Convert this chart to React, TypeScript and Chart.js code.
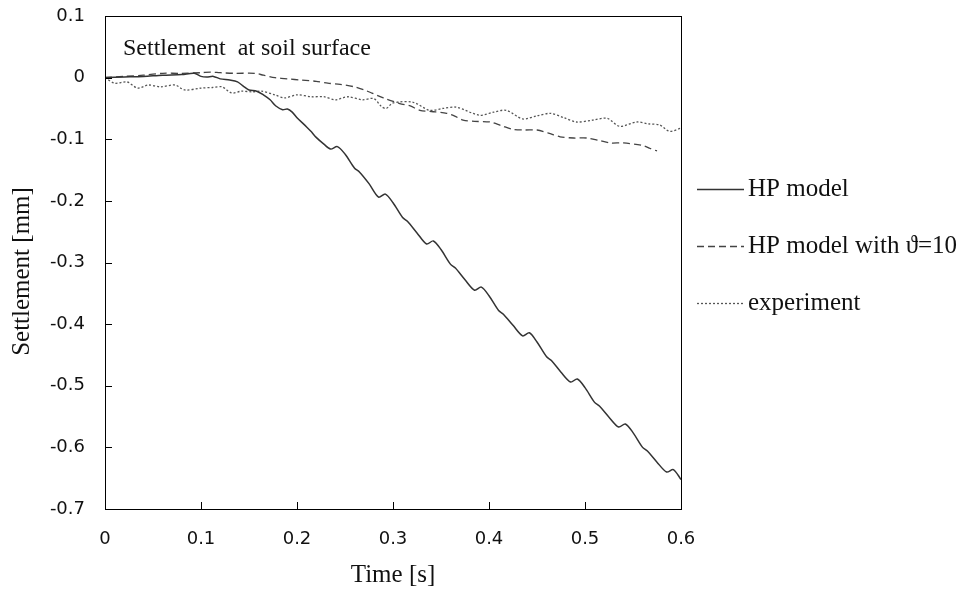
import React, { useEffect, useRef } from "react";
import { Chart, registerables } from "chart.js";

Chart.register(...registerables);

const hpTime = [0, 0.02, 0.04, 0.06, 0.08, 0.093, 0.1, 0.106, 0.113, 0.12, 0.13, 0.138, 0.145, 0.15, 0.158, 0.165, 0.172, 0.178, 0.185, 0.19, 0.195, 0.2, 0.21, 0.215, 0.22, 0.228, 0.235, 0.242, 0.25, 0.26, 0.265, 0.275, 0.285, 0.292, 0.3, 0.31, 0.315, 0.325, 0.335, 0.342, 0.35, 0.36, 0.365, 0.375, 0.385, 0.392, 0.4, 0.41, 0.415, 0.425, 0.435, 0.442, 0.45, 0.46, 0.465, 0.475, 0.485, 0.492, 0.5, 0.51, 0.515, 0.525, 0.535, 0.542, 0.55, 0.56, 0.565, 0.575, 0.585, 0.592, 0.6];
const hpSettlement = [0, 0.001, 0.002, 0.004, 0.005, 0.007, 0.002, 0.001, 0.002, -0.002, -0.004, -0.007, -0.015, -0.02, -0.022, -0.028, -0.036, -0.046, -0.052, -0.051, -0.056, -0.065, -0.08, -0.088, -0.097, -0.108, -0.116, -0.112, -0.124, -0.147, -0.153, -0.172, -0.194, -0.189, -0.203, -0.227, -0.233, -0.252, -0.27, -0.265, -0.279, -0.303, -0.309, -0.328, -0.345, -0.34, -0.354, -0.378, -0.384, -0.402, -0.419, -0.414, -0.429, -0.453, -0.459, -0.478, -0.494, -0.489, -0.503, -0.527, -0.533, -0.551, -0.567, -0.562, -0.576, -0.6, -0.606, -0.624, -0.64, -0.636, -0.652];

const thetaTime = [0, 0.02, 0.04, 0.06, 0.08, 0.1, 0.11, 0.12, 0.135, 0.156, 0.165, 0.177, 0.19, 0.205, 0.22, 0.232, 0.245, 0.26, 0.27, 0.278, 0.29, 0.307, 0.318, 0.328, 0.34, 0.356, 0.365, 0.373, 0.385, 0.401, 0.413, 0.425, 0.437, 0.45, 0.462, 0.474, 0.488, 0.502, 0.515, 0.526, 0.54, 0.56, 0.568, 0.575];
const thetaSettlement = [0, 0.002, 0.004, 0.007, 0.007, 0.008, 0.009, 0.008, 0.007, 0.007, 0.004, 0, -0.002, -0.004, -0.006, -0.009, -0.011, -0.015, -0.02, -0.025, -0.033, -0.042, -0.046, -0.053, -0.055, -0.058, -0.063, -0.069, -0.071, -0.072, -0.078, -0.084, -0.085, -0.085, -0.09, -0.096, -0.098, -0.098, -0.102, -0.106, -0.106, -0.11, -0.115, -0.119];

const expTime = [0, 0.01, 0.023, 0.034, 0.045, 0.058, 0.073, 0.083, 0.1, 0.112, 0.122, 0.132, 0.142, 0.153, 0.163, 0.177, 0.187, 0.2, 0.215, 0.228, 0.24, 0.253, 0.268, 0.28, 0.288, 0.293, 0.3, 0.321, 0.338, 0.352, 0.366, 0.39, 0.405, 0.418, 0.435, 0.45, 0.464, 0.478, 0.491, 0.508, 0.523, 0.536, 0.554, 0.566, 0.578, 0.588, 0.6];
const expSettlement = [0, -0.009, -0.007, -0.017, -0.012, -0.015, -0.012, -0.02, -0.017, -0.016, -0.015, -0.025, -0.022, -0.023, -0.022, -0.028, -0.033, -0.028, -0.031, -0.031, -0.036, -0.031, -0.036, -0.034, -0.047, -0.05, -0.041, -0.04, -0.053, -0.05, -0.048, -0.061, -0.056, -0.053, -0.067, -0.062, -0.058, -0.065, -0.072, -0.069, -0.066, -0.079, -0.072, -0.075, -0.077, -0.087, -0.082];

const seriesLabels = ["HP model", "HP model with \u03d1=10", "experiment"];
const xTickValues = [0, 0.1, 0.2, 0.3, 0.4, 0.5, 0.6];
const yTickValues = [0.1, 0, -0.1, -0.2, -0.3, -0.4, -0.5, -0.6, -0.7];
const chartTitle = "Settlement  at soil surface";
const xTitle = "Time [s]";
const yTitle = "Settlement [mm]";

const SERIF = "'Liberation Serif', 'Times New Roman', serif";
const SANS = "'DejaVu Sans', Verdana, sans-serif";

const zip = (xs: number[], ys: number[]) => xs.map((x, i) => ({ x, y: ys[i] }));

const framePlugin = {
  id: "frame",
  afterDraw(chart: any) {
    const { ctx, chartArea } = chart;
    const { left, right, top, bottom } = chartArea;
    const xs = chart.scales.x;
    const ys = chart.scales.y;
    ctx.save();
    ctx.strokeStyle = "#000";
    ctx.lineWidth = 1;
    ctx.strokeRect(Math.round(left) + 0.5, Math.round(top) + 0.5, Math.round(right - left), Math.round(bottom - top));
    ctx.beginPath();
    yTickValues.forEach((v) => {
      const py = Math.round(ys.getPixelForValue(v)) + 0.5;
      ctx.moveTo(left, py);
      ctx.lineTo(left + 7, py);
    });
    xTickValues.forEach((v) => {
      const px = Math.round(xs.getPixelForValue(v)) + 0.5;
      ctx.moveTo(px, bottom);
      ctx.lineTo(px, bottom - 7);
    });
    ctx.stroke();

    // title inside plot
    ctx.fillStyle = "#111";
    ctx.font = "24px " + SERIF;
    ctx.textBaseline = "alphabetic";
    ctx.textAlign = "left";
    ctx.fillText(chartTitle, left + 18, top + 39);

    // y-axis title
    ctx.save();
    ctx.translate(22, (top + bottom) / 2 + 9);
    ctx.rotate(-Math.PI / 2);
    ctx.font = "25px " + SERIF;
    ctx.textAlign = "center";
    ctx.textBaseline = "middle";
    ctx.fillText(yTitle, 0, 0);
    ctx.restore();

    // legend
    const rows = [189, 246, 303];
    chart.data.datasets.forEach((ds: any, i: number) => {
      const y = rows[i] + 0.5;
      ctx.beginPath();
      ctx.strokeStyle = ds.borderColor;
      ctx.lineWidth = ds.borderWidth;
      ctx.setLineDash(ds.borderDash || []);
      ctx.moveTo(right + 16, y);
      ctx.lineTo(right + 63, y);
      ctx.stroke();
      ctx.setLineDash([]);
      ctx.fillStyle = "#111";
      ctx.font = "25px " + SERIF;
      ctx.textAlign = "left";
      ctx.textBaseline = "middle";
      ctx.fillText(ds.label, right + 67, rows[i]);
    });
    ctx.restore();
  },
};

export default function App() {
  const canvasRef = useRef<HTMLCanvasElement | null>(null);

  useEffect(() => {
    document.body.style.margin = "0";
    const canvas = canvasRef.current;
    if (!canvas) return;
    const chart = new Chart(canvas, {
      type: "line",
      data: {
        datasets: [
          {
            label: seriesLabels[0],
            data: zip(hpTime, hpSettlement),
            borderColor: "#333",
            borderWidth: 1.5,
            pointRadius: 0,
            tension: 0.3,
            fill: false,
          },
          {
            label: seriesLabels[1],
            data: zip(thetaTime, thetaSettlement),
            borderColor: "#444",
            borderWidth: 1.3,
            borderDash: [7, 4],
            pointRadius: 0,
            tension: 0.3,
            fill: false,
          },
          {
            label: seriesLabels[2],
            data: zip(expTime, expSettlement),
            borderColor: "#555",
            borderWidth: 1.3,
            borderDash: [2, 2],
            pointRadius: 0,
            tension: 0.3,
            fill: false,
          },
        ],
      },
      options: {
        animation: false,
        responsive: true,
        maintainAspectRatio: false,
        layout: { padding: { top: 16, right: 291, left: 0, bottom: 0 } },
        plugins: {
          legend: { display: false },
          tooltip: { enabled: false },
          title: { display: false },
        },
        scales: {
          x: {
            type: "linear",
            min: 0,
            max: 0.6,
            afterFit: (s: any) => {
              s.height = 82;
              s.paddingLeft = 0;
              s.paddingRight = 0;
            },
            afterBuildTicks: (s: any) => {
              s.ticks = xTickValues.map((v) => ({ value: v }));
            },
            grid: { display: false, drawTicks: false },
            border: { display: false },
            ticks: {
              padding: 20,
              color: "#111",
              font: { family: SANS, size: 18 },
              maxRotation: 0,
              callback: (v: any) => String(Number(Number(v).toFixed(1))),
            },
            title: {
              display: true,
              text: xTitle,
              color: "#111",
              font: { family: SERIF, size: 25 },
              padding: { top: 0, bottom: 1 },
            },
          },
          y: {
            type: "linear",
            min: -0.7,
            max: 0.1,
            afterFit: (s: any) => {
              s.width = 105;
              s.paddingTop = 0;
              s.paddingBottom = 0;
            },
            afterBuildTicks: (s: any) => {
              s.ticks = yTickValues.map((v) => ({ value: v }));
            },
            grid: { display: false, drawTicks: false },
            border: { display: false },
            ticks: {
              padding: 20,
              color: "#111",
              font: { family: SANS, size: 18 },
              callback: (v: any) => {
                const n = Number(Number(v).toFixed(1));
                return n === 0 ? "0" : String(n);
              },
            },
            title: { display: false },
          },
        },
      },
      plugins: [framePlugin],
    });
    return () => chart.destroy();
  }, []);

  return (
    <div style={{ position: "fixed", left: 0, top: 0, width: 972, height: 591, background: "#fff" }}>
      <canvas ref={canvasRef} />
    </div>
  );
}
